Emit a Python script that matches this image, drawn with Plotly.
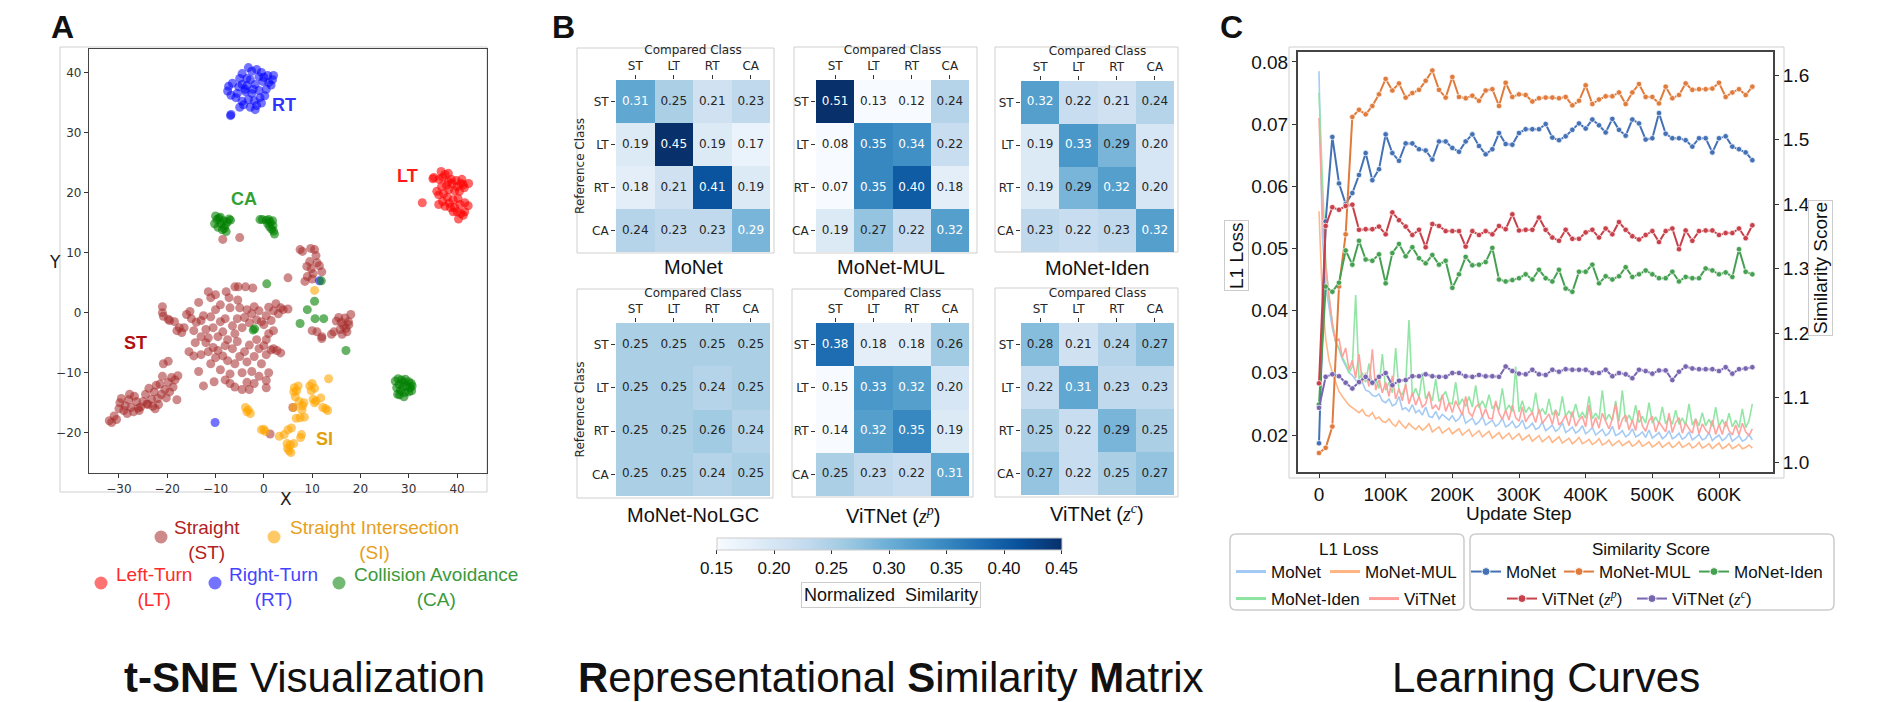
import plotly.graph_objects as go

W, H = 1879, 702
def px(x): return x / W
def py(y): return 1 - y / H

FONT_SANS = "Liberation Sans, Arial, sans-serif"
FONT_MPL = "DejaVu Sans, sans-serif"

# ---------------- Panel A: t-SNE points ----------------
ST_POINTS = [(-32,-18),(-31.5,-18.3),(-31,-17.2),(-30.5,-17.8),(-30,-16),(-29.8,-15),(-29.5,-14.3),(-29,-16.3),
    (-28.7,-15.5),(-28.3,-16.8),(-28,-14.5),(-27.5,-15.8),(-27,-16.5),(-26.8,-13.9),(-26.4,-14.8),(-26,-15.9),
    (-25.5,-15.7),(-25,-14.8),(-24.5,-13.6),(-24.2,-15.2),(-23.8,-12.6),(-23.3,-14.4),(-23,-15.6),(-22.7,-13.2),
    (-22.3,-12.1),(-22,-14.3),(-21.8,-15.3),(-21.5,-11.9),(-21.2,-13.6),(-21,-10.6),(-20.8,-8.5),(-20.5,-12.8),
    (-20.2,-14.2),(-19.8,-11.6),(-19.5,-13.2),(-19.1,-10.8),(-18.8,-12.4),(-18.4,-11.2),(-18,-14.5),(-17.8,-10.5),
    (-19.8,-8.1),(-24,-15.3),(-25.8,-16.3),(-22.5,-16),(-27.8,-13.6),
    (-11.5,3.5),(-11,2.5),(-10,3),(-7.8,3.5),(-6,4.3),(-5.3,4.3),(-3.8,4.3),(-2.3,4.1),(-5.4,2.1),(-7.2,2.5),(-9,1.3),
    (-21,1),(-21,0),(-20.8,-0.6),(-19.8,-1.1),(-19.5,-1.3),(-18.5,-1.5),(-17.5,-2.5),(-17,-3.3),(-18,-3),(-16.5,-2.5),
    (-16,-0.3),(-15.3,0.2),(-15,-1),(-14.5,-3),(-14,-1.6),(-13.5,1.7),(-13,-1.3),(-12.5,-0.5),(-12,-2.8),(-11.5,-4.2),
    (-11,-0.7),(-10.5,-2.5),(-10,0.5),(-9.5,-4),(-9,-1.5),(-8.5,-3.2),(-8,-1),(-7.5,-4.5),(-7,0.8),(-6.5,-2.2),
    (-6,-3.5),(-5.5,-1),(-5,0.8),(-4.5,-2.5),(-4,-0.8),(-3.5,0.5),(-3,-1.7),(-2.5,-0.2),(-2,1),(-1.5,-1.2),
    (-1,0.3),(-0.5,-1.5),(0,-2),(0.5,-0.5),(1,0.9),(1.5,-1.3),(2,0.3),(2.5,1.5),(3,-0.2),(3.5,0.8),(4,0.5),(5,0.6),
    (2,-3),(1,-3.5),(0.5,-4.5),
    (-13,-7),(-12,-5),(-11.5,-6.5),(-11,-8.5),(-10.5,-5.8),(-10,-7.5),(-9.5,-6.3),(-9,-9.5),(-8.5,-7.2),(-8,-5.5),
    (-7.5,-8),(-7,-10.2),(-6.5,-6),(-6,-8.5),(-5.5,-4.8),(-5,-7.3),(-4.5,-10),(-4,-6.5),(-3.5,-8.2),(-3,-5.4),
    (-2.5,-9.8),(-2,-7.3),(-1.5,-4.5),(-1,-6),(-0.5,-8.5),(0,-5.5),(0.5,-7),(1,-10),(1.5,-6.2),(2,-6),(2.7,-6.3),
    (3.5,-6.7),(-7,-11.8),(-6,-12.4),(-4.5,-12.8),(-3.5,-11.6),(-2,-11.8),(0.5,-12.5),(0.5,-11.3),(-8,-11.2),
    (-10.3,-11.5),(-12.5,-12.2),(-13.5,-9.8),(-14.5,-7.2),(-15.5,-6.5),(-13,-4),(-14.2,-5),(-3,-12.8),(-1,-10.6),
    (7.5,10.5),(8,10.2),(9.7,10.7),(10.5,10.5),(10.8,9.5),(11,8.3),(9.5,8.5),(9.8,7.3),(8.9,7.7),(10.2,6.5),
    (11.5,7.8),(12,6.8),(9,6),(8.5,5.2),(10,5.6),(5,5.8),
    (10,-3),(11,-3.2),(12,-4),(12,-4.3),(14,-3.6),(14.5,-3.2),(15.5,-0.8),(16,-1.6),(16.5,-2.2),(17,-2.6),
    (17.5,-1.5),(17.2,-3.2),(16.2,-3.6),(15.8,-2.8),(18,-0.3),(16.8,-0.9),(15,-1.4),(17.6,-2),
    (-8.5,12.2),(-5,12.5),(6,-15.8),(1.3,-20.2)]
RT_POINTS = [(-3.2,40.8),(-2.5,40.2),(-1.5,40.5),(-0.5,40),(0.8,39.5),(2,39.5),(-4.5,39.8),(-5,39),(-6.5,38.2),
    (-7.3,37.7),(-7.5,36.9),(-6.8,36.2),(-4.5,38),(-3.5,37.8),(-2.8,38.8),(-1.8,38),(-1,37),(-0.2,38.5),(0.5,37.2),
    (1,38.3),(1.5,37.9),(-2.5,36.5),(-3.8,36.8),(-5.5,36.5),(-5.8,35.8),(-4.5,35.2),(-3.2,35.5),(-2,35.3),
    (-0.8,35.8),(0.2,36.1),(-1.5,34.5),(-2.8,34.2),(-4.2,34.6),(-5,34.2),(-1.8,33.8),(-0.5,34.9),(-6.8,33),
    (-6.9,32.8),(-3.5,39),(0,39.2),(-1,39.3),(1.8,38.8),(-3.9,37.2),(-2.2,37.2),(-5.2,37.6),
    (11.5,5.3),(-10.1,-18.3)]
LT_POINTS = [(36.7,23.5),(37.5,23),(38.2,23.2),(36.3,22.2),(37,22.5),(38.8,22.2),(39.8,22),(40.8,21.5),(41.3,21.3),
    (40,21),(39,21.5),(37.8,21.2),(36.8,21),(35.8,20.2),(36.2,19.6),(37.2,19.8),(38.3,20.5),(39.5,20.3),(40.5,20.2),
    (41.5,20.8),(38,19.2),(39.2,18.8),(40.2,19),(37,18.5),(36.2,18),(37.5,17.7),(38.6,17.5),(39.5,17.5),(40.6,18),
    (41.6,18.3),(42.3,17.8),(40,16.8),(40.8,16.5),(41.3,16.2),(40.3,15.6),(39.2,16.8),(38.4,18.2),(41,22.2),
    (38.2,21.8),(35.2,22.5),(35,22.3),(32.8,18.3),(42.4,21.5),(41.6,16.8)]
CA_POINTS = [(-10,16.1),(-9.7,15.5),(-9.3,15.7),(-8.9,14.8),(-8.4,15.3),(-8,14.5),(-7.6,15.1),(-7.2,15.6),(-6.9,15.4),
    (-10.2,14.8),(-9.5,14.2),(-8.6,13.8),(-8.2,14),(-7.8,13.5),(-9,15.9),
    (-0.8,15.5),(-0.3,15.5),(0.5,15.4),(1,15.5),(1.3,15.1),(1.8,15.3),(0.8,14.8),(1.2,14.3),(1.6,13.9),(2,13.6),
    (2.2,13.1),(1.9,14.5),
    (27.2,-11.4),(27.8,-11),(28.5,-11.2),(29.3,-11.1),(30,-11.5),(30.5,-11.8),(28,-12),(28.8,-12.4),(29.6,-12.2),
    (30.3,-12.5),(30.7,-12.2),(27.5,-12.5),(28.3,-13),(29.2,-13.3),(30,-13.2),(28.1,-13.7),(29,-14),(27.7,-13.6),
    (30.6,-13),(28.9,-11.6),
    (0.6,4.8),(10.5,1.9),(9,0.5),(10.6,-1),(12.4,-1),(7.5,-1.8),(-1.9,-2.7),(-2.2,-2.9),(17,-6.3),(11.9,5.3)]
SI_POINTS = [(10.5,3.7),(13.4,-11),(-3.8,-15.8),(-3.2,-16.2),(-2.8,-16.8),(-3.5,-16.5),(-0.5,-19.5),(0,-19.4),
    (0.3,-19.8),(3.2,-20.6),(4.2,-20.3),(5,-19.5),(5.7,-19.2),(4.8,-21.8),(5.5,-22),(6.2,-21.8),(5.2,-23),(5.6,-23.3),
    (4.9,-22.6),(7.8,-20.3),(7.6,-20.8),(6.3,-12.5),(6.2,-13.2),(6.8,-13),(7.1,-12.2),(6.5,-14),(7.3,-14.8),(8,-15.5),
    (7.9,-16.2),(8.3,-15),(7.5,-17.5),(6.7,-17.6),(8.4,-17.4),(9.5,-12.2),(10,-11.8),(10.5,-12.6),(9.8,-13),
    (10.2,-14.4),(10.8,-14.7),(10.5,-15),(11.8,-14.2),(12.2,-15.8),(13.2,-16.3),(12.8,-16),(6.2,-15.8)]
CLUSTER_LABELS = [("RT", 4.1, 34.5), ("LT", 29.8, 22.7), ("CA", -4.2, 19.0), ("ST", -26.5, -5.0), ("SI", 12.5, -21.1)]
A_XTICKS = [-30, -20, -10, 0, 10, 20, 30, 40]
A_YTICKS = [-20, -10, 0, 10, 20, 30, 40]

# ---------------- Panel B: similarity matrices ----------------
CLASSES = ["ST", "LT", "RT", "CA"]
RSM_NAMES = ["MoNet", "MoNet-MUL", "MoNet-Iden", "MoNet-NoLGC", "ViTNet (z^p)", "ViTNet (z^c)"]
RSM_MONET = [[0.31,0.25,0.21,0.23],[0.19,0.45,0.19,0.17],[0.18,0.21,0.41,0.19],[0.24,0.23,0.23,0.29]]
RSM_MUL = [[0.51,0.13,0.12,0.24],[0.08,0.35,0.34,0.22],[0.07,0.35,0.40,0.18],[0.19,0.27,0.22,0.32]]
RSM_IDEN = [[0.32,0.22,0.21,0.24],[0.19,0.33,0.29,0.20],[0.19,0.29,0.32,0.20],[0.23,0.22,0.23,0.32]]
RSM_NOLGC = [[0.25,0.25,0.25,0.25],[0.25,0.25,0.24,0.25],[0.25,0.25,0.26,0.24],[0.25,0.25,0.24,0.25]]
RSM_VIT_ZP = [[0.38,0.18,0.18,0.26],[0.15,0.33,0.32,0.20],[0.14,0.32,0.35,0.19],[0.25,0.23,0.22,0.31]]
RSM_VIT_ZC = [[0.28,0.21,0.24,0.27],[0.22,0.31,0.23,0.23],[0.25,0.22,0.29,0.25],[0.27,0.22,0.25,0.27]]
CBAR_TICKS = [0.15, 0.20, 0.25, 0.30, 0.35, 0.40, 0.45]

# ---------------- Panel C: learning curves ----------------
L1_STEPS = list(range(0, 650001, 5000))
L1_MONET = [0.0785,0.0520,0.0440,0.0405,0.0372,0.0350,0.0338,0.0322,0.0312,0.0300,
    0.0296,0.0288,0.0281,0.0285,0.0272,0.0270,0.0264,0.0262,0.0266,0.0255,
    0.0252,0.0258,0.0247,0.0250,0.0262,0.0241,0.0244,0.0238,0.0249,0.0236,
    0.0240,0.0232,0.0245,0.0230,0.0228,0.0238,0.0226,0.0233,0.0229,0.0224,
    0.0231,0.0222,0.0226,0.0236,0.0219,0.0223,0.0227,0.0217,0.0221,0.0230,
    0.0216,0.0220,0.0224,0.0214,0.0218,0.0227,0.0213,0.0216,0.0222,0.0212,
    0.0215,0.0224,0.0210,0.0213,0.0219,0.0209,0.0212,0.0221,0.0207,0.0211,
    0.0216,0.0206,0.0210,0.0220,0.0204,0.0208,0.0213,0.0203,0.0207,0.0215,
    0.0202,0.0206,0.0212,0.0200,0.0204,0.0209,0.0199,0.0203,0.0214,0.0199,
    0.0202,0.0207,0.0197,0.0201,0.0210,0.0197,0.0200,0.0205,0.0196,0.0208,
    0.0195,0.0199,0.0204,0.0194,0.0198,0.0207,0.0194,0.0197,0.0203,0.0193,
    0.0197,0.0205,0.0192,0.0196,0.0201,0.0192,0.0195,0.0204,0.0191,0.0196,
    0.0200,0.0191,0.0195,0.0203,0.0190,0.0194,0.0199,0.0190,0.0193,0.0201,
    0.0192]
L1_MUL = [0.0560,0.0420,0.0355,0.0320,0.0300,0.0285,0.0270,0.0262,0.0255,0.0248,
    0.0244,0.0240,0.0236,0.0241,0.0232,0.0230,0.0236,0.0226,0.0229,0.0222,
    0.0220,0.0226,0.0218,0.0214,0.0223,0.0216,0.0211,0.0219,0.0213,0.0209,
    0.0215,0.0208,0.0212,0.0218,0.0205,0.0209,0.0213,0.0203,0.0207,0.0211,
    0.0202,0.0206,0.0210,0.0200,0.0204,0.0209,0.0198,0.0202,0.0207,0.0197,
    0.0201,0.0206,0.0195,0.0199,0.0204,0.0194,0.0198,0.0203,0.0193,0.0197,
    0.0202,0.0192,0.0196,0.0200,0.0190,0.0194,0.0199,0.0189,0.0193,0.0198,
    0.0188,0.0192,0.0197,0.0187,0.0191,0.0195,0.0186,0.0190,0.0196,0.0186,
    0.0189,0.0193,0.0185,0.0188,0.0194,0.0184,0.0187,0.0192,0.0183,0.0187,
    0.0191,0.0183,0.0186,0.0190,0.0182,0.0185,0.0191,0.0182,0.0185,0.0189,
    0.0181,0.0184,0.0189,0.0180,0.0184,0.0188,0.0180,0.0183,0.0189,0.0180,
    0.0183,0.0187,0.0179,0.0182,0.0188,0.0179,0.0182,0.0186,0.0178,0.0182,
    0.0187,0.0178,0.0181,0.0186,0.0178,0.0181,0.0185,0.0178,0.0180,0.0184,
    0.0179]
L1_IDEN = [0.0750,0.0620,0.0480,0.0420,0.0380,0.0350,0.0340,0.0325,0.0315,0.0300,
    0.0310,0.0425,0.0290,0.0300,0.0285,0.0315,0.0280,0.0290,0.0275,0.0330,
    0.0272,0.0285,0.0268,0.0340,0.0270,0.0265,0.0280,0.0385,0.0262,0.0275,
    0.0260,0.0300,0.0258,0.0268,0.0255,0.0290,0.0254,0.0262,0.0270,0.0252,
    0.0250,0.0285,0.0248,0.0258,0.0246,0.0262,0.0245,0.0280,0.0244,0.0255,
    0.0243,0.0265,0.0242,0.0250,0.0240,0.0275,0.0239,0.0248,0.0238,0.0310,
    0.0237,0.0255,0.0236,0.0245,0.0235,0.0268,0.0234,0.0242,0.0233,0.0258,
    0.0232,0.0240,0.0231,0.0262,0.0230,0.0239,0.0229,0.0250,0.0228,0.0236,
    0.0227,0.0262,0.0226,0.0235,0.0225,0.0272,0.0224,0.0233,0.0223,0.0255,
    0.0222,0.0272,0.0221,0.0232,0.0221,0.0248,0.0220,0.0230,0.0219,0.0252,
    0.0219,0.0229,0.0218,0.0245,0.0218,0.0228,0.0217,0.0240,0.0217,0.0227,
    0.0216,0.0250,0.0216,0.0226,0.0215,0.0236,0.0215,0.0225,0.0214,0.0245,
    0.0214,0.0225,0.0213,0.0235,0.0213,0.0224,0.0212,0.0242,0.0212,0.0223,
    0.0250]
L1_VIT = [0.0710,0.0560,0.0470,0.0420,0.0380,0.0350,0.0355,0.0325,0.0340,0.0305,
    0.0320,0.0292,0.0330,0.0285,0.0300,0.0278,0.0338,0.0272,0.0290,0.0268,
    0.0285,0.0262,0.0295,0.0258,0.0275,0.0255,0.0282,0.0250,0.0268,0.0248,
    0.0262,0.0245,0.0250,0.0270,0.0242,0.0248,0.0240,0.0265,0.0238,0.0252,
    0.0236,0.0255,0.0244,0.0232,0.0262,0.0236,0.0230,0.0245,0.0250,0.0229,
    0.0242,0.0227,0.0226,0.0255,0.0235,0.0225,0.0240,0.0224,0.0248,0.0228,
    0.0222,0.0245,0.0221,0.0230,0.0236,0.0220,0.0242,0.0219,0.0226,0.0234,
    0.0217,0.0240,0.0216,0.0222,0.0232,0.0215,0.0238,0.0214,0.0224,0.0230,
    0.0213,0.0248,0.0212,0.0228,0.0211,0.0235,0.0222,0.0210,0.0226,0.0250,
    0.0209,0.0225,0.0232,0.0208,0.0224,0.0207,0.0240,0.0215,0.0206,0.0223,
    0.0230,0.0205,0.0221,0.0212,0.0205,0.0235,0.0204,0.0220,0.0228,0.0203,
    0.0219,0.0210,0.0203,0.0226,0.0202,0.0218,0.0208,0.0202,0.0224,0.0201,
    0.0217,0.0201,0.0222,0.0207,0.0200,0.0216,0.0200,0.0219,0.0205,0.0199,
    0.0210]

SIM_STEPS = list(range(0, 650001, 10000))
SIM_MONET = [1.029,1.373,1.504,1.432,1.400,1.417,1.445,1.479,1.437,1.454,
    1.508,1.479,1.467,1.494,1.494,1.485,1.483,1.469,1.497,1.497,
    1.487,1.481,1.497,1.508,1.490,1.477,1.485,1.510,1.493,1.492,
    1.510,1.516,1.516,1.516,1.524,1.503,1.499,1.505,1.515,1.525,
    1.517,1.531,1.522,1.511,1.532,1.515,1.506,1.531,1.525,1.500,
    1.502,1.541,1.509,1.502,1.502,1.499,1.489,1.502,1.502,1.480,
    1.502,1.505,1.489,1.485,1.480,1.468]
SIM_MUL = [1.014,1.022,1.055,1.272,1.353,1.535,1.546,1.539,1.552,1.570,
    1.594,1.576,1.587,1.565,1.572,1.577,1.591,1.607,1.577,1.565,
    1.597,1.566,1.564,1.568,1.560,1.576,1.578,1.552,1.588,1.566,
    1.570,1.569,1.559,1.564,1.565,1.565,1.564,1.566,1.553,1.560,
    1.584,1.555,1.562,1.567,1.567,1.573,1.555,1.573,1.586,1.566,
    1.566,1.556,1.582,1.564,1.569,1.587,1.577,1.578,1.578,1.579,
    1.588,1.566,1.573,1.578,1.569,1.582]
SIM_IDEN = [1.089,1.272,1.264,1.278,1.328,1.306,1.343,1.314,1.312,1.322,
    1.277,1.324,1.338,1.319,1.333,1.316,1.308,1.321,1.306,1.312,
    1.270,1.291,1.318,1.305,1.306,1.310,1.332,1.283,1.280,1.282,
    1.285,1.291,1.283,1.298,1.285,1.280,1.298,1.269,1.264,1.295,
    1.295,1.306,1.277,1.288,1.283,1.288,1.302,1.287,1.291,1.297,
    1.291,1.285,1.285,1.295,1.280,1.287,1.285,1.285,1.300,1.297,
    1.291,1.294,1.287,1.330,1.295,1.291]
SIM_VIT_ZP = [1.122,1.366,1.395,1.391,1.397,1.399,1.360,1.361,1.361,1.365,
    1.353,1.387,1.375,1.365,1.352,1.360,1.333,1.369,1.366,1.358,
    1.358,1.358,1.334,1.358,1.352,1.358,1.353,1.366,1.361,1.384,
    1.359,1.360,1.360,1.379,1.360,1.348,1.343,1.360,1.346,1.346,
    1.356,1.360,1.348,1.362,1.353,1.372,1.360,1.350,1.345,1.352,
    1.358,1.341,1.358,1.362,1.330,1.359,1.343,1.358,1.359,1.359,
    1.352,1.355,1.355,1.362,1.347,1.367]
SIM_VIT_ZC = [1.084,1.132,1.136,1.133,1.123,1.114,1.124,1.132,1.123,1.132,
    1.138,1.119,1.126,1.127,1.133,1.133,1.136,1.133,1.132,1.132,
    1.138,1.138,1.133,1.132,1.135,1.133,1.133,1.132,1.148,1.141,
    1.137,1.136,1.143,1.136,1.135,1.143,1.140,1.144,1.143,1.143,
    1.143,1.138,1.138,1.143,1.133,1.138,1.136,1.130,1.143,1.141,
    1.137,1.142,1.142,1.127,1.140,1.148,1.145,1.144,1.144,1.144,
    1.141,1.147,1.137,1.144,1.145,1.147]
C_XTICKS = [0, 100000, 200000, 300000, 400000, 500000, 600000]
C_XTICKTEXT = ["0", "100K", "200K", "300K", "400K", "500K", "600K"]
C_LTICKS = [0.02, 0.03, 0.04, 0.05, 0.06, 0.07, 0.08]
C_RTICKS = [1.0, 1.1, 1.2, 1.3, 1.4, 1.5, 1.6]

# ============================================================
fig = go.Figure()
layout = dict(width=W, height=H, margin=dict(l=0, r=0, t=0, b=0), paper_bgcolor="white",
              plot_bgcolor="white", font=dict(family=FONT_SANS, color="#111"), showlegend=True)
annotations = []
shapes = []

def ann(text, x, y, size, color="#111", family=FONT_SANS, **kw):
    d = dict(text=text, x=px(x), y=py(y), xref="paper", yref="paper", showarrow=False,
             font=dict(size=size, color=color, family=family), xanchor="center", yanchor="middle")
    d.update(kw)
    annotations.append(d)

def frame(x0, y0, x1, y1, color="#cfcfcf"):
    shapes.append(dict(type="rect", xref="paper", yref="paper", x0=px(x0), x1=px(x1), y0=py(y1), y1=py(y0),
                       line=dict(color=color, width=1), fillcolor="rgba(0,0,0,0)", layer="below"))

# ---------------- Panel A ----------------
A_STYLE = [("ST", ST_POINTS, "#a52a2a", 0.55), ("RT", RT_POINTS, "#0000ff", 0.55),
           ("LT", LT_POINTS, "#ff0000", 0.6), ("CA", CA_POINTS, "#008000", 0.6), ("SI", SI_POINTS, "#ffa500", 0.6)]
for name, pts, col, op in A_STYLE:
    fig.add_trace(go.Scatter(x=[p[0] for p in pts], y=[p[1] for p in pts], mode="markers", xaxis="x", yaxis="y",
                             marker=dict(size=9, color=col, opacity=op, line=dict(width=0)),
                             showlegend=False, hoverinfo="skip"))
frame(60, 47, 487, 492)
layout["xaxis"] = dict(domain=[px(89), px(487)], anchor="y", range=[-36.2, 46.2], tickvals=A_XTICKS,
                       ticks="outside", ticklen=4, tickcolor="#333", showgrid=False, zeroline=False,
                       showline=True, linecolor="#444", linewidth=1.3, mirror=True,
                       tickfont=dict(family=FONT_MPL, size=12, color="#333"))
layout["yaxis"] = dict(domain=[py(473), py(49)], anchor="x", range=[-26.7, 43.9], tickvals=A_YTICKS,
                       ticks="outside", ticklen=4, tickcolor="#333", showgrid=False, zeroline=False,
                       showline=True, linecolor="#444", linewidth=1.3, mirror=True,
                       tickfont=dict(family=FONT_MPL, size=12, color="#333"))
lab_colors = {"RT": "#3333ff", "LT": "#ff1a1a", "CA": "#33a033", "ST": "#b01010", "SI": "#e0a010"}
for t, x, y in CLUSTER_LABELS:
    annotations.append(dict(text="<b>%s</b>" % t, x=x, y=y, xref="x", yref="y", showarrow=False,
                            font=dict(size=18, color=lab_colors[t], family=FONT_SANS)))
ann("Y", 55, 262, 17, "#222", FONT_MPL)
ann("X", 286, 499, 17, "#222", FONT_MPL)
ann("<b>A</b>", 62, 27, 32)

# Panel A legend (markers through legends, text via annotations)
A_LEG = [("ST", "#a52a2a", 0.55, 161, 537, "Straight<br>(ST)", 207, 540, "#b22222"),
         ("SI", "#ffa500", 0.6, 274, 537, "Straight Intersection<br>(SI)", 374, 540, "#e6a020"),
         ("LT", "#ff0000", 0.55, 101, 583, "Left-Turn<br>(LT)", 154, 587, "#ff2a2a"),
         ("RT", "#0000ff", 0.55, 215, 583, "Right-Turn<br>(RT)", 273, 587, "#4444ff"),
         ("CA", "#008000", 0.55, 339, 583, "Collision Avoidance<br>(CA)", 436, 587, "#3a9a3a")]
leg_n = 10
for key, col, op, mx, my, txt, tx, ty, tcol in A_LEG:
    lname = "legend%d" % leg_n
    fig.add_trace(go.Scatter(x=[None], y=[None], mode="markers", xaxis="x", yaxis="y", legend=lname,
                             marker=dict(size=13, color=col, opacity=op), name=" ", showlegend=True,
                             hoverinfo="skip"))
    layout[lname] = dict(x=px(mx - 20), y=py(my), xanchor="left", yanchor="middle", bgcolor="rgba(0,0,0,0)",
                         borderwidth=0, font=dict(size=12), itemclick=False, itemdoubleclick=False)
    ann(txt, tx, ty, 19, tcol, align="center")
    leg_n += 1

# ---------------- Panel B ----------------
BLUES = [[0.0, "rgb(247,251,255)"], [0.125, "rgb(222,235,247)"], [0.25, "rgb(198,219,239)"],
         [0.375, "rgb(158,202,225)"], [0.5, "rgb(107,174,214)"], [0.625, "rgb(66,146,198)"],
         [0.75, "rgb(33,113,181)"], [0.875, "rgb(8,81,156)"], [1.0, "rgb(8,48,107)"]]
MATS = [RSM_MONET, RSM_MUL, RSM_IDEN, RSM_NOLGC, RSM_VIT_ZP, RSM_VIT_ZC]
HM_DOM = [((616, 770), (80, 252)), ((816, 969), (80, 252)), ((1021, 1174), (81, 252)),
          ((616, 770), (323, 496)), ((816, 969), (323, 496)), ((1021, 1174), (323, 495))]
HM_FRAMES = [(577, 48, 774, 253), (794, 47, 977, 253), (995, 47, 1178, 252),
             (577, 289, 773, 498), (792, 289, 973, 497), (995, 288, 1178, 497)]
HM_TITLES = [(693, 267), (891, 267), (1097, 268), (693, 515), (893, 515), (1097, 513)]
WHITE_THR = [0.285, 0.30, 0.30, 0.30, 0.30, 0.30]
for i, mat in enumerate(MATS):
    k = i + 2
    xa, ya = "x%d" % k, "y%d" % k
    hm = dict(z=mat, x=CLASSES, y=CLASSES, colorscale=BLUES, zmin=0.15, zmax=0.45, xaxis=xa, yaxis=ya,
              hoverinfo="skip", showscale=(i == 0))
    if i == 0:
        hm["colorbar"] = dict(orientation="h", x=px(889), xanchor="center", y=py(538), yanchor="top",
                              len=345, lenmode="pixels", thickness=12, tickvals=CBAR_TICKS,
                              ticktext=["%.2f" % v for v in CBAR_TICKS], ticks="outside", ticklen=4,
                              tickcolor="#333", tickfont=dict(size=17, family=FONT_SANS, color="#111"),
                              outlinewidth=1, outlinecolor="#cccccc", xpad=0, ypad=0)
    fig.add_trace(go.Heatmap(**hm))
    tx, ty, tt, tc = [], [], [], []
    for r, row in enumerate(mat):
        for c, v in enumerate(row):
            tx.append(CLASSES[c]); ty.append(CLASSES[r]); tt.append("%.2f" % v)
            tc.append("white" if v >= WHITE_THR[i] else "#262626")
    fig.add_trace(go.Scatter(x=tx, y=ty, text=tt, mode="text", xaxis=xa, yaxis=ya, showlegend=False,
                             hoverinfo="skip", textfont=dict(size=12, family=FONT_MPL, color=tc)))
    (x0, x1), (y0, y1) = HM_DOM[i]
    layout["xaxis%d" % k] = dict(domain=[px(x0), px(x1)], anchor=ya, side="top", ticks="outside", ticklen=4,
                                 tickcolor="#333", showgrid=False, zeroline=False, showline=False,
                                 tickfont=dict(size=12, family=FONT_MPL, color="#262626"),
                                 title=dict(text="Compared Class", standoff=2,
                                            font=dict(size=12, family=FONT_MPL, color="#262626")),
                                 categoryorder="array", categoryarray=CLASSES)
    ydict = dict(domain=[py(y1), py(y0)], anchor=xa, autorange="reversed", ticks="outside", ticklen=4,
                 tickcolor="#333", showgrid=False, zeroline=False, showline=False,
                 tickfont=dict(size=12, family=FONT_MPL, color="#262626"),
                 categoryorder="array", categoryarray=CLASSES)
    if i in (0, 3):
        ydict["title"] = dict(text="Reference Class", standoff=4,
                              font=dict(size=12, family=FONT_MPL, color="#262626"))
    layout["yaxis%d" % k] = ydict
    frame(*HM_FRAMES[i])
    name = RSM_NAMES[i]
    if "(z^" in name:
        sup = name[-2]
        name = ("ViTNet (<span style='font-family:Liberation Serif'><i>z</i><sup><i>%s</i></sup></span>)" % sup)
    ann(name, HM_TITLES[i][0], HM_TITLES[i][1], 20, "#111")
ann("Normalized  Similarity", 891, 595, 18, "#111", bordercolor="#cccccc", borderwidth=1, borderpad=2)
ann("<b>B</b>", 563, 27, 32)

# ---------------- Panel C ----------------
L1_SERIES = [("MoNet", L1_MONET, "#a1c9f4"), ("MoNet-MUL", L1_MUL, "#ffb482"),
             ("MoNet-Iden", L1_IDEN, "#8de5a1"), ("ViTNet", L1_VIT, "#ff9f9b")]
for name, vals, col in L1_SERIES:
    fig.add_trace(go.Scatter(x=L1_STEPS, y=vals, mode="lines", xaxis="x8", yaxis="y8",
                             line=dict(color=col, width=1.6), opacity=0.95, showlegend=False, hoverinfo="skip"))
SERIF_SPAN = "<span style='font-family:Liberation Serif'><i>z</i><sup><i>%s</i></sup></span>"
SIM_SERIES = [("MoNet", SIM_MONET, "#4471b6"), ("MoNet-MUL", SIM_MUL, "#e07b3c"),
              ("MoNet-Iden", SIM_IDEN, "#45a052"), ("ViTNet (" + SERIF_SPAN % "p" + ")", SIM_VIT_ZP, "#c8404a"),
              ("ViTNet (" + SERIF_SPAN % "c" + ")", SIM_VIT_ZC, "#7865b0")]
for name, vals, col in SIM_SERIES:
    fig.add_trace(go.Scatter(x=SIM_STEPS, y=vals, mode="lines+markers", xaxis="x8", yaxis="y9",
                             line=dict(color=col, width=2),
                             marker=dict(size=5.5, color=col, line=dict(color="white", width=0.7)),
                             showlegend=False, hoverinfo="skip"))

# legends (one entry each)
L1_LEG_POS = [(1231, 572), (1325, 572), (1231, 599), (1364, 599)]
SIM_LEG_POS = [(1466, 572), (1559, 572), (1694, 572), (1502, 599), (1632, 599)]
leg_n = 1
for (name, vals, col), (lx, ly) in zip(L1_SERIES, L1_LEG_POS):
    lname = "legend" if leg_n == 1 else "legend%d" % leg_n
    fig.add_trace(go.Scatter(x=[None], y=[None], mode="lines", xaxis="x8", yaxis="y8", legend=lname,
                             line=dict(color=col, width=3), name=name, showlegend=True, hoverinfo="skip"))
    layout[lname] = dict(x=px(lx), y=py(ly), xanchor="left", yanchor="middle", bgcolor="rgba(0,0,0,0)",
                         borderwidth=0, font=dict(size=17, family=FONT_SANS, color="#111"),
                         itemclick=False, itemdoubleclick=False)
    leg_n += 1
for (name, vals, col), (lx, ly) in zip(SIM_SERIES, SIM_LEG_POS):
    lname = "legend%d" % leg_n
    fig.add_trace(go.Scatter(x=[None], y=[None], mode="lines+markers", xaxis="x8", yaxis="y9", legend=lname,
                             line=dict(color=col, width=2),
                             marker=dict(size=8, color=col, line=dict(color="white", width=1)),
                             name=name, showlegend=True, hoverinfo="skip"))
    layout[lname] = dict(x=px(lx), y=py(ly), xanchor="left", yanchor="middle", bgcolor="rgba(0,0,0,0)",
                         borderwidth=0, font=dict(size=17, family=FONT_SANS, color="#111"),
                         itemclick=False, itemdoubleclick=False)
    leg_n += 1

def rounded(x0, y0, x1, y1, r=6):
    X0, X1, Y0, Y1 = px(x0), px(x1), py(y0), py(y1)
    rx, ry = r / W, r / H
    path = ("M %f,%f L %f,%f Q %f,%f %f,%f L %f,%f Q %f,%f %f,%f L %f,%f Q %f,%f %f,%f L %f,%f Q %f,%f %f,%f Z" %
            (X0 + rx, Y0, X1 - rx, Y0, X1, Y0, X1, Y0 - ry, X1, Y1 + ry, X1, Y1, X1 - rx, Y1,
             X0 + rx, Y1, X0, Y1, X0, Y1 + ry, X0, Y0 - ry, X0, Y0, X0 + rx, Y0))
    shapes.append(dict(type="path", path=path, xref="paper", yref="paper",
                       line=dict(color="#cccccc", width=1.5), fillcolor="rgba(0,0,0,0)"))
rounded(1230, 534, 1464, 610)
rounded(1470, 534, 1834, 610)
ann("L1 Loss", 1349, 549, 17)
ann("Similarity Score", 1651, 549, 17)

frame(1289, 47, 1784, 478)
layout["xaxis8"] = dict(domain=[px(1298), px(1773)], anchor="y8", range=[-31500, 681000], tickvals=C_XTICKS,
                        ticktext=C_XTICKTEXT, ticks="outside", ticklen=4, tickcolor="#333", showgrid=False,
                        zeroline=False, showline=True, linecolor="#444", linewidth=2, mirror=True,
                        tickfont=dict(size=19, family=FONT_SANS, color="#111"))
layout["yaxis8"] = dict(domain=[py(472), py(52)], anchor="x8", range=[0.01405, 0.0816], tickvals=C_LTICKS,
                        tickformat=".2f", ticks="outside", ticklen=4, tickcolor="#333", showgrid=False,
                        zeroline=False, showline=True, linecolor="#444", linewidth=2,
                        tickfont=dict(size=19, family=FONT_SANS, color="#111"))
layout["yaxis9"] = dict(domain=[py(472), py(52)], anchor="x8", overlaying="y8", side="right",
                        range=[0.9845, 1.6357], tickvals=C_RTICKS, tickformat=".1f", ticks="outside",
                        ticklen=4, tickcolor="#333", showgrid=False, zeroline=False, showline=True,
                        linecolor="#444", linewidth=2,
                        tickfont=dict(size=19, family=FONT_SANS, color="#111"))
ann("L1 Loss", 1237, 256, 19, textangle=-90, bordercolor="#cccccc", borderwidth=1, borderpad=1)
ann("Similarity Score", 1820, 268, 19, textangle=-90, bordercolor="#cccccc", borderwidth=1, borderpad=1)
ann("Update Step", 1519, 513, 19)
ann("<b>C</b>", 1231, 27, 32)

# ---------------- bottom titles ----------------
ann("<b>t-SNE</b> Visualization", 304, 677, 42)
ann("<b>R</b>epresentational <b>S</b>imilarity <b>M</b>atrix", 891, 677, 42)
ann("Learning Curves", 1546, 677, 42)

layout["annotations"] = annotations
layout["shapes"] = shapes
fig.update_layout(**layout)
# remove the browser's default 8px page margin so the figure sits at the window origin; hide the modebar
fig.write_html("out.html", config={"displayModeBar": False},
               post_script="document.body.style.margin='0px';")
